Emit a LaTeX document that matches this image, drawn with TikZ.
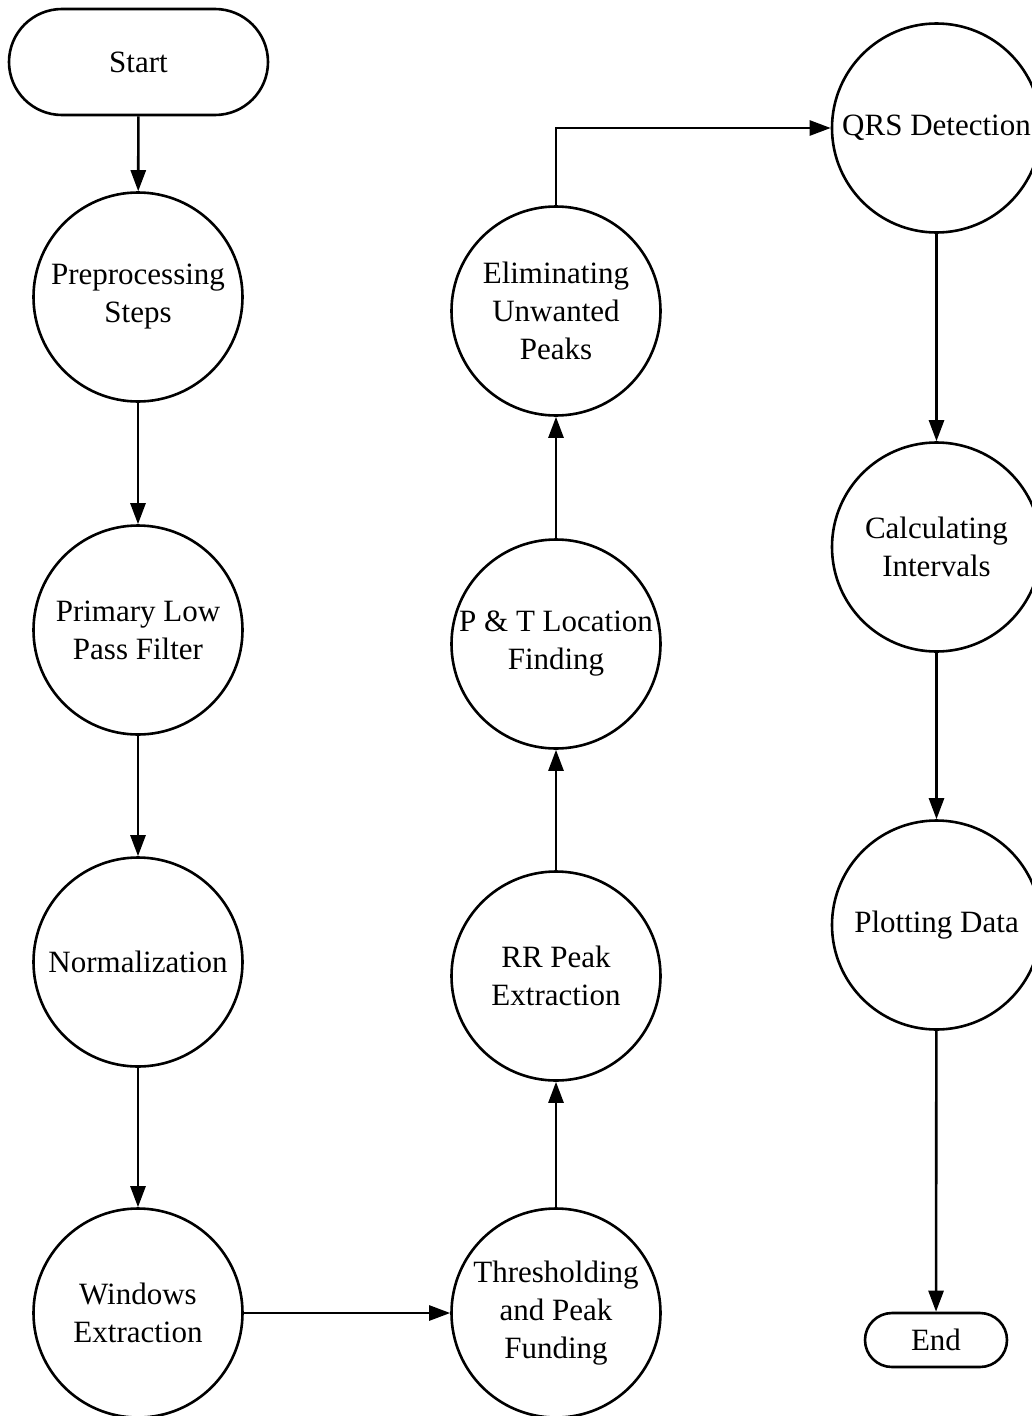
\documentclass[tikz,border=0pt]{standalone}
\usepackage{fontspec}
\setmainfont{Liberation Serif}
\usetikzlibrary{arrows.meta}
\begin{document}
\begin{tikzpicture}[x=1pt,y=-1pt,
  every node/.style={font=\fontsize{31}{38}\selectfont, align=center},
  proc/.style={circle, draw, line width=2.6pt, minimum size=209pt, inner sep=0pt},
  term/.style={draw, line width=2.6pt, rounded corners=#1, inner sep=0pt},
  flow/.style={line width=2.6pt, -{Triangle[length=21pt,width=15pt]}}]
\useasboundingbox (0,0) rectangle (1032,1416);
\clip (0,0) rectangle (1032,1416);

% left column
\node[term=53pt, minimum width=259pt, minimum height=106pt] (start) at (138.5,62) {Start};
\node[proc] (pre)  at (138,297)  {Preprocessing\\Steps};
\node[proc] (lpf)  at (138,630)  {Primary Low\\Pass Filter};
\node[proc] (norm) at (138,962)  {Normalization};
\node[proc] (win)  at (138,1313) {Windows\\Extraction};

% middle column
\node[proc] (thr)  at (556,1313) {Thresholding\\and Peak\\Funding};
\node[proc] (rr)   at (556,976)  {RR Peak\\Extraction};
\node[proc] (pt)   at (556,644)  {P \& T Location\\Finding};
\node[proc] (elim) at (556,311)  {Eliminating\\Unwanted\\Peaks};

% right column
\node[proc] (qrs)  at (936.5,128) {QRS Detection};
\node[proc] (calc) at (936.5,547) {Calculating\\Intervals};
\node[proc] (plot) at (936.5,925) {Plotting Data};
\node[term=27pt, minimum width=142pt, minimum height=54pt] (end) at (936,1340) {End};

% connectors
\draw[flow] (start) -- (pre);
\draw[flow] (pre) -- (lpf);
\draw[flow] (lpf) -- (norm);
\draw[flow] (norm) -- (win);
\draw[flow] (win) -- (thr);
\draw[flow] (thr) -- (rr);
\draw[flow] (rr) -- (pt);
\draw[flow] (pt) -- (elim);
\draw[flow] (elim.north) |- (qrs.west);
\draw[flow] (qrs) -- (calc);
\draw[flow] (calc) -- (plot);
\draw[flow] (plot) -- (end);
\end{tikzpicture}
\end{document}
